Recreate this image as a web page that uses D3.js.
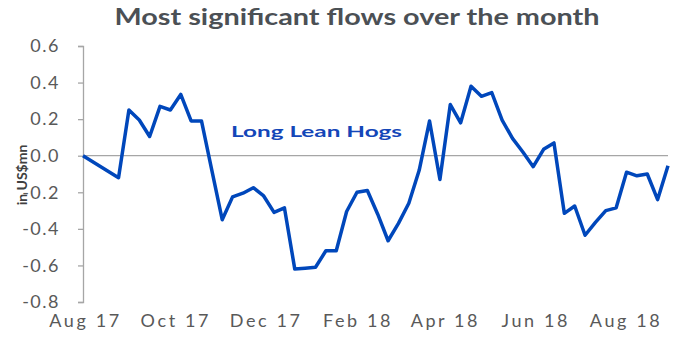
<!DOCTYPE html>
<html>
<head>
<meta charset="utf-8">
<script src="https://cdn.jsdelivr.net/npm/d3@7"></script>
<style>
  html, body { margin: 0; padding: 0; background: #fff; }
  svg { display: block; font-family: Lato, "Noto Sans", sans-serif; }
</style>
</head>
<body>
<svg id="chart" width="686" height="343"></svg>
<script>
// Weekly net flows, Long Lean Hogs (US$mn)
const dates = [
  "2017-08-01", "2017-08-25",
  "2017-09-01", "2017-09-08", "2017-09-15", "2017-09-22", "2017-09-29",
  "2017-10-06", "2017-10-13", "2017-10-20", "2017-10-27",
  "2017-11-03", "2017-11-10", "2017-11-17", "2017-11-24",
  "2017-12-01", "2017-12-08", "2017-12-15", "2017-12-22", "2017-12-29",
  "2018-01-05", "2018-01-12", "2018-01-19", "2018-01-26",
  "2018-02-02", "2018-02-09", "2018-02-16", "2018-02-23",
  "2018-03-02", "2018-03-09", "2018-03-16", "2018-03-23", "2018-03-30",
  "2018-04-06", "2018-04-13", "2018-04-20", "2018-04-27",
  "2018-05-04", "2018-05-11", "2018-05-18", "2018-05-25",
  "2018-06-01", "2018-06-08", "2018-06-15", "2018-06-22", "2018-06-29",
  "2018-07-06", "2018-07-13", "2018-07-20", "2018-07-27",
  "2018-08-03", "2018-08-10", "2018-08-17", "2018-08-24", "2018-08-31"
];
const flows = [
  0.0, -0.12,
  0.25, 0.195, 0.105, 0.27, 0.25,
  0.335, 0.19, 0.19, -0.08,
  -0.35, -0.225, -0.205, -0.175,
  -0.22, -0.31, -0.285, -0.62, -0.615,
  -0.61, -0.52, -0.52, -0.305,
  -0.2, -0.19, -0.32, -0.465,
  -0.37, -0.26, -0.08, 0.19, -0.13,
  0.28, 0.18, 0.38, 0.325,
  0.345, 0.195, 0.095, 0.02,
  -0.06, 0.035, 0.07, -0.315, -0.275,
  -0.435, -0.365, -0.3, -0.285,
  -0.09, -0.11, -0.1, -0.24, -0.055
];
const yTicks = [0.6, 0.4, 0.2, 0.0, -0.2, -0.4, -0.6, -0.8];
const xTickDates = ["2017-08-01", "2017-10-01", "2017-12-01", "2018-02-01", "2018-04-01", "2018-06-01", "2018-08-01"];
const xTickLabels = ["Aug 17", "Oct 17", "Dec 17", "Feb 18", "Apr 18", "Jun 18", "Aug 18"];
const seriesName = "Long Lean Hogs";
const titleText = "Most significant flows over the month";
const yAxisTitle = "in US$mn";

const parse = d3.utcParse("%Y-%m-%d");
const data = dates.map((d, i) => ({ date: parse(d), value: flows[i] }));

const svg = d3.select("#chart");
const plot = { left: 83, right: 668, top: 46, bottom: 302 };

const x = d3.scaleUtc()
  .domain(d3.extent(data, d => d.date))
  .range([plot.left, plot.right]);
const y = d3.scaleLinear()
  .domain([-0.8, 0.6])
  .range([plot.bottom, plot.top]);

// Title
svg.append("text")
  .attr("x", 357).attr("y", 25)
  .attr("text-anchor", "middle")
  .attr("font-size", 23).attr("font-weight", 700)
  .attr("fill", "#4b5055")
  .attr("textLength", 485).attr("lengthAdjust", "spacingAndGlyphs")
  .text(titleText);

// Y axis
const yAxis = d3.axisLeft(y)
  .tickValues(yTicks)
  .tickFormat(d3.format(".1f"))
  .tickSize(5)
  .tickPadding(18);
const gy = svg.append("g")
  .attr("transform", `translate(${plot.left},0)`)
  .call(yAxis);
gy.select(".domain").attr("stroke", "#a6a6a6").attr("stroke-width", 1.3);
gy.selectAll(".tick line").attr("stroke", "#a6a6a6").attr("stroke-width", 1.3);
gy.selectAll(".tick text")
  .attr("font-size", 18).attr("fill", "#595959")
  .attr("font-family", "Lato, sans-serif")
  .attr("letter-spacing", 1.5)
  .text(d => d3.format(".1f")(d).replace("−", "-"));

// Y axis title
svg.append("text")
  .attr("transform", "translate(27,175) rotate(-90)")
  .attr("text-anchor", "middle")
  .attr("font-size", 14).attr("font-weight", 700)
  .attr("fill", "#404040")
  .text(yAxisTitle);

// X axis labels (no axis line; zero line drawn separately)
const xAxis = d3.axisBottom(x)
  .tickValues(xTickDates.map(parse))
  .tickFormat((d, i) => xTickLabels[i])
  .tickSize(0)
  .tickPadding(0);
const gx = svg.append("g")
  .attr("transform", `translate(2,${plot.bottom + 12})`)
  .call(xAxis);
gx.select(".domain").remove();
gx.selectAll(".tick text")
  .attr("font-size", 18).attr("fill", "#595959")
  .attr("font-family", "Lato, sans-serif")
  .attr("letter-spacing", 2.6);

// Zero line
svg.append("line")
  .attr("x1", plot.left).attr("x2", plot.right)
  .attr("y1", y(0)).attr("y2", y(0))
  .attr("stroke", "#a6a6a6").attr("stroke-width", 1.3);

// Series line
const line = d3.line()
  .x(d => x(d.date))
  .y(d => y(d.value));
svg.append("path")
  .datum(data)
  .attr("d", line)
  .attr("fill", "none")
  .attr("stroke", "#0047bb")
  .attr("stroke-width", 3.5)
  .attr("stroke-linejoin", "round");

// Series label
svg.append("text")
  .attr("x", 231).attr("y", 137)
  .attr("font-size", 16).attr("font-weight", 700)
  .attr("fill", "#1446b8")
  .attr("textLength", 171).attr("lengthAdjust", "spacingAndGlyphs")
  .text(seriesName);
</script>
</body>
</html>
